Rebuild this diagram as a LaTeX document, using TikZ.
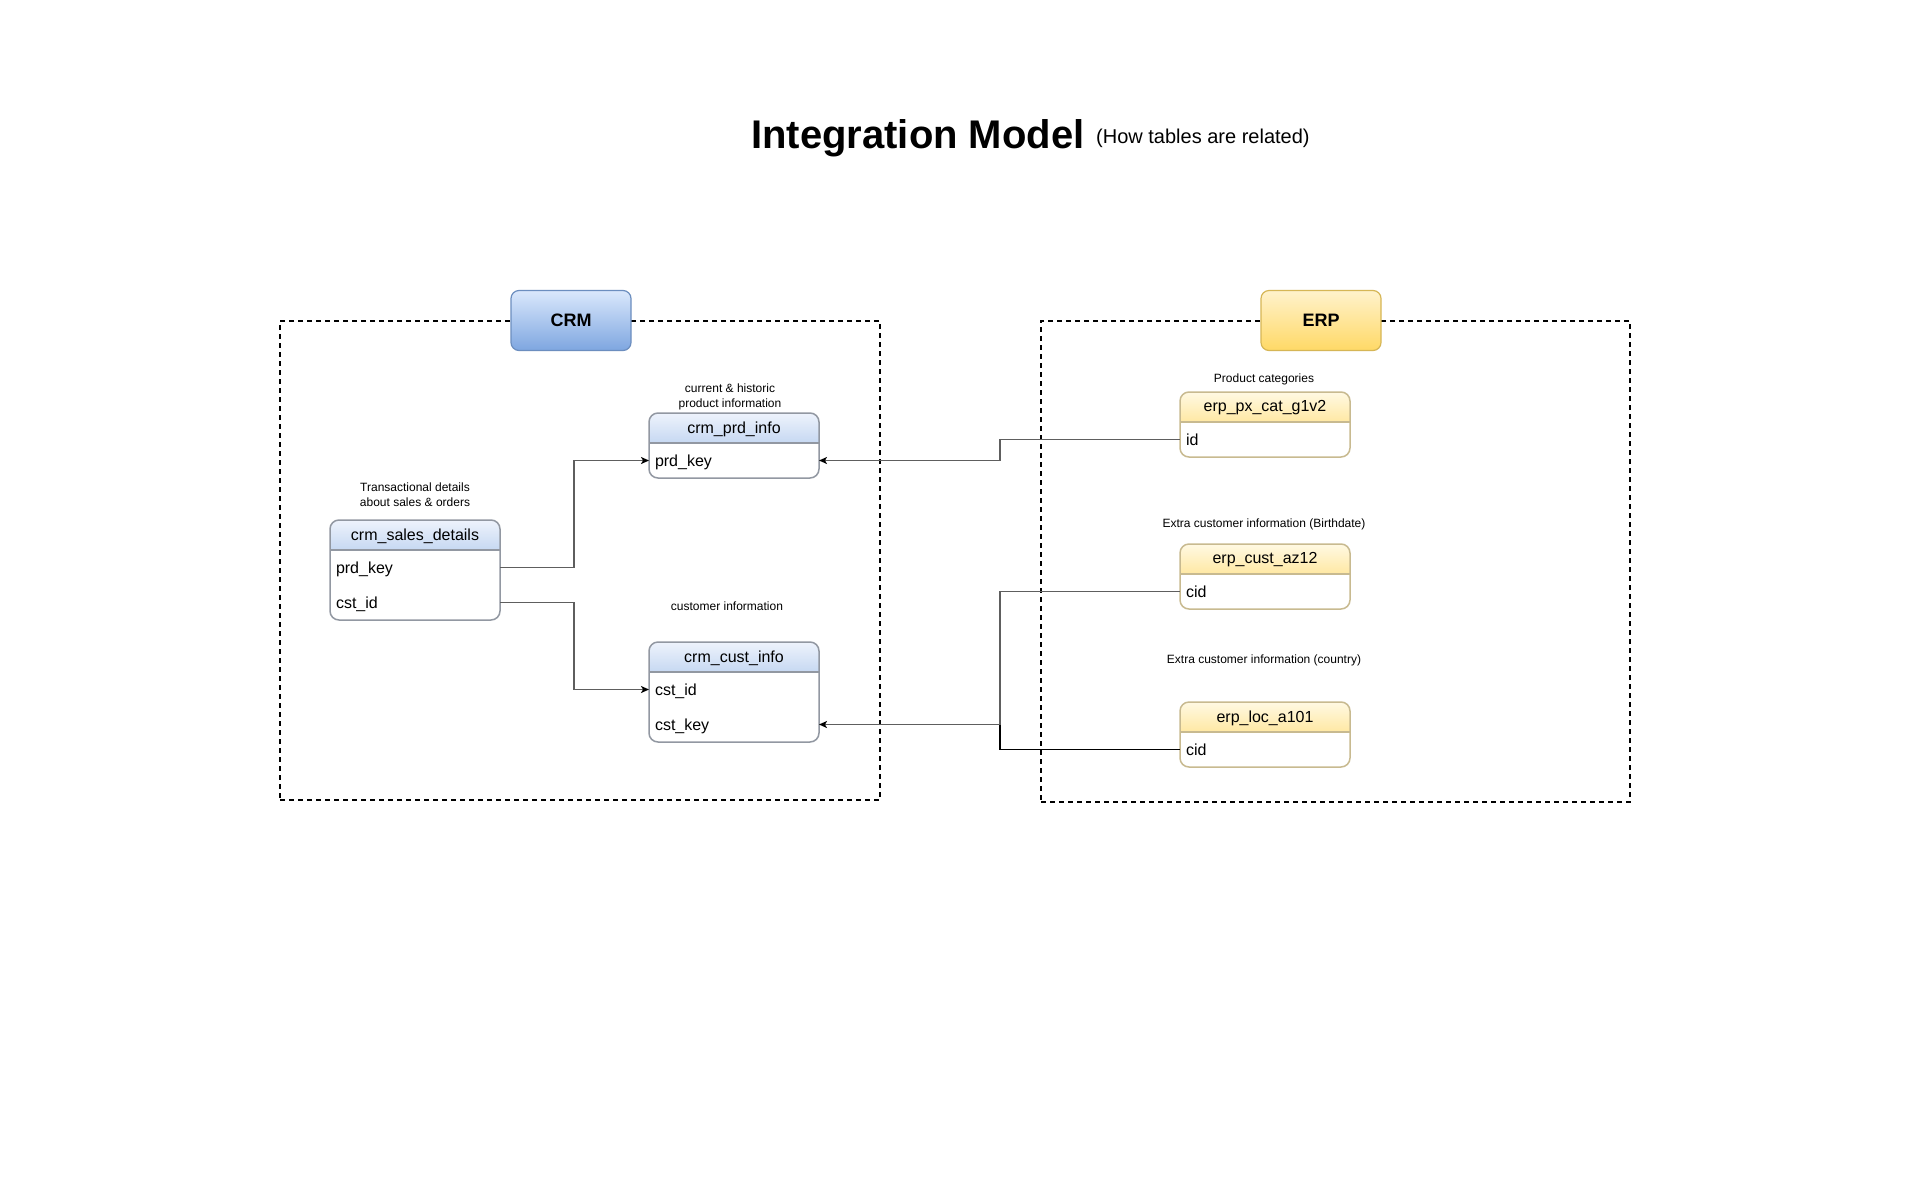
\documentclass[tikz,border=0pt]{standalone}
\usepackage{fontspec}
\setmainfont{Liberation Sans}
\usetikzlibrary{arrows.meta,calc}
\definecolor{crmtagtop}{HTML}{DAE8FC}
\definecolor{crmtagbot}{HTML}{7EA6E0}
\definecolor{crmtagline}{HTML}{6C8EBF}
\definecolor{erptagtop}{HTML}{FFF2CC}
\definecolor{erptagbot}{HTML}{FFD966}
\definecolor{erptagline}{HTML}{D6B656}
\definecolor{crmhdtop}{HTML}{EEF3FC}
\definecolor{crmhdbot}{HTML}{C6D8F2}
\definecolor{crmline}{HTML}{9298A2}
\definecolor{erphdtop}{HTML}{FFF9E3}
\definecolor{erphdbot}{HTML}{FFE8A3}
\definecolor{erpline}{HTML}{C8BA90}
\definecolor{linegray}{HTML}{5E5E5E}
\tikzset{
  grp/.style={draw=black, dash pattern=on 5pt off 4pt, line width=1.5pt, inner sep=0, outer sep=0},
  tagbox/.style={rounded corners=8pt, line width=1.2pt, minimum width=120pt, minimum height=60pt,
    font=\fontsize{18pt}{21pt}\selectfont\bfseries, inner sep=0},
  crmtag/.style={tagbox, draw=crmtagline, top color=crmtagtop, bottom color=crmtagbot},
  erptag/.style={tagbox, draw=erptagline, top color=erptagtop, bottom color=erptagbot},
  tblframe/.style={draw=#1, line width=1.5pt, rounded corners=9pt, minimum width=170pt,
    inner sep=0, outer sep=0, anchor=north west},
  tbltitle/.style={font=\fontsize{16pt}{19pt}\selectfont, inner sep=0},
  tblrow/.style={anchor=west, text width=158pt, inner xsep=6pt, inner ysep=0, outer sep=0,
    minimum height=35pt, align=left, text height=11.5pt, text depth=0pt,
    font=\fontsize{16pt}{19pt}\selectfont},
  notetxt/.style={font=\fontsize{12pt}{15pt}\selectfont, align=center, inner sep=0},
  conn/.style={draw=linegray, line width=1.4pt},
  arrowend/.style={-{Stealth[length=8pt,width=7pt,inset=2pt,color=black]}},
}
\newcommand{\erdtable}[6]{%
  \fill[white, rounded corners=9pt] (#2,#3) rectangle ++(170,#4);
  \begin{scope}
    \clip[rounded corners=9pt] (#2,#3) rectangle ++(170,#4);
    \shade[top color=#5hdtop, bottom color=#5hdbot] (#2,#3) rectangle ++(170,30);
  \end{scope}
  \node[tblframe=#5line, minimum height=#4pt] (#1) at (#2,#3) {};
  \draw[#5line, line width=1.5pt] (#1.north west) ++(0,30) -- ++(170,0);
  \node[tbltitle] (#1-title) at ($(#1.north)+(0,16)$) {#6};
}
\begin{document}
\begin{tikzpicture}[x=1pt,y=-1pt]
\useasboundingbox[fill=white] (0,0) rectangle (1920,1200);

% title
\node[anchor=base west, inner sep=0, font=\fontsize{40pt}{48pt}\selectfont\bfseries] (title) at (751,148) {Integration Model};
\node[anchor=base west, inner sep=0, font=\fontsize{20pt}{24pt}\selectfont] (subtitle) at (1096,143) {(How tables are related)};

% groups
\node[grp, minimum width=600pt, minimum height=479pt] (crmgroup) at (580,560.5) {};
\node[grp, minimum width=589pt, minimum height=481pt] (erpgroup) at (1335.5,561.5) {};
\node[crmtag] (crmtag) at (571,320.5) {CRM};
\node[erptag] (erptag) at (1321,320.5) {ERP};

% CRM tables
\erdtable{sales}{330}{520}{100}{crm}{crm\_sales\_details}
\node[tblrow] (sales-prd) at (330,567.5) {prd\_key};
\node[tblrow] (sales-cst) at (330,602.5) {cst\_id};

\erdtable{prd}{649}{413}{65}{crm}{crm\_prd\_info}
\node[tblrow] (prd-key) at (649,460.5) {prd\_key};

\erdtable{cust}{649}{642}{100}{crm}{crm\_cust\_info}
\node[tblrow] (cust-id) at (649,689.5) {cst\_id};
\node[tblrow] (cust-key) at (649,724.5) {cst\_key};

% ERP tables
\erdtable{pxcat}{1180}{392}{65}{erp}{erp\_px\_cat\_g1v2}
\node[tblrow] (px-id) at (1180,439.5) {id};

\erdtable{az}{1180}{544}{65}{erp}{erp\_cust\_az12}
\node[tblrow] (az-cid) at (1180,591.5) {cid};

\erdtable{loc}{1180}{702}{65}{erp}{erp\_loc\_a101}
\node[tblrow] (loc-cid) at (1180,749.5) {cid};

% notes
\node[notetxt] (n-sales) at (415,495) {Transactional details\\about sales \& orders};
\node[notetxt] (n-prd) at (730,397) {current \& historic\\product information};
\node[notetxt] (n-cust) at (727,606) {customer information};
\node[notetxt] (n-px) at (1264,379) {Product categories};
\node[notetxt] (n-az) at (1264,524) {Extra customer information (Birthdate)};
\node[notetxt] (n-loc) at (1264,660) {Extra customer information (country)};

% connectors
\coordinate (crmbus) at (574,0);
\coordinate (erpbus) at (1000,0);
\draw[conn, arrowend] (sales-prd.east) -| (crmbus |- prd-key.west) -- (prd-key.west);
\draw[conn, arrowend] (sales-cst.east) -| (crmbus |- cust-id.west) -- (cust-id.west);
\draw[conn, arrowend] (px-id.west) -| (erpbus |- prd-key.east) -- (prd-key.east);
\draw[conn, arrowend] (az-cid.west) -| (erpbus |- cust-key.east) -- (cust-key.east);
\draw[conn, draw=black] (loc-cid.west) -| (erpbus |- cust-key.east);
\end{tikzpicture}
\end{document}
